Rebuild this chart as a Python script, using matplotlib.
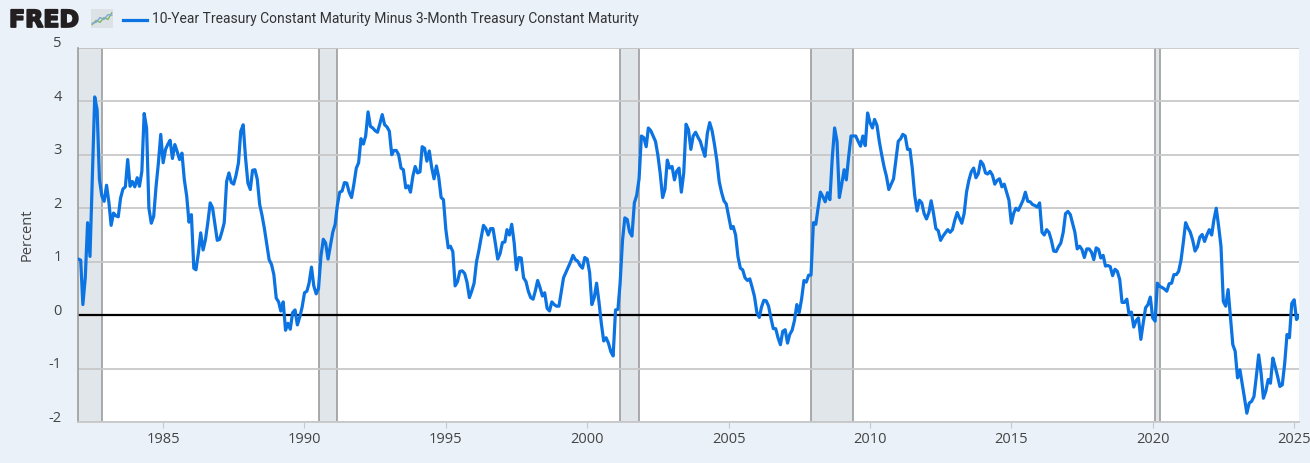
import matplotlib
matplotlib.use("Agg")
import matplotlib.pyplot as plt
import matplotlib.transforms as mtransforms
import matplotlib.patheffects as pe
from matplotlib.lines import Line2D
import pandas as pd

# 10-Year minus 3-Month Treasury constant maturity spread, monthly (percent)
spread_1980s = [
    1.05, 1.03, 0.20, 0.70, 1.73, 1.10, 2.60, 4.08, 3.84, 2.54, 2.23, 2.13,   # 1982
    2.43, 2.10, 1.68, 1.91, 1.86, 1.84, 2.19, 2.36, 2.40, 2.91, 2.41, 2.50,   # 1983
    2.40, 2.57, 2.41, 2.69, 3.77, 3.50, 2.00, 1.72, 1.85, 2.40, 2.85, 3.38,   # 1984
    2.85, 3.10, 3.19, 3.27, 2.93, 3.19, 3.06, 2.91, 3.03, 2.54, 2.23, 1.74,   # 1985
    1.88, 0.88, 0.85, 1.16, 1.54, 1.22, 1.41, 1.73, 2.10, 2.01, 1.70, 1.40,   # 1986
    1.42, 1.57, 1.73, 2.50, 2.66, 2.48, 2.45, 2.62, 2.85, 3.44, 3.56, 2.95,   # 1987
    2.47, 2.35, 2.71, 2.72, 2.54, 2.07, 1.87, 1.62, 1.32, 1.04, 0.95, 0.76,   # 1988
    0.32, 0.25, 0.08, 0.25, -0.28, -0.15, -0.26, 0.05, 0.10, -0.18, -0.03, 0.15,  # 1989
]
spread_1990s = [
    0.42, 0.45, 0.60, 0.90, 0.55, 0.40, 0.50, 1.10, 1.42, 1.35, 1.05, 1.30,   # 1990
    1.55, 1.70, 2.05, 2.30, 2.32, 2.48, 2.47, 2.30, 2.20, 2.45, 2.75, 2.85,   # 1991
    3.30, 3.20, 3.35, 3.80, 3.53, 3.50, 3.45, 3.42, 3.58, 3.75, 3.56, 3.52,   # 1992
    3.44, 3.00, 3.08, 3.08, 3.00, 2.75, 2.72, 2.38, 2.42, 2.30, 2.60, 2.78,   # 1993
    2.66, 2.68, 3.15, 3.12, 2.88, 3.07, 2.77, 2.55, 2.79, 2.58, 2.20, 2.16,   # 1994
    1.60, 1.26, 1.29, 1.19, 0.55, 0.63, 0.82, 0.83, 0.78, 0.62, 0.33, 0.45,   # 1995
    0.60, 1.00, 1.20, 1.45, 1.68, 1.62, 1.50, 1.62, 1.62, 1.35, 1.05, 1.15,   # 1996
    1.36, 1.37, 1.60, 1.50, 1.70, 1.36, 0.85, 1.08, 1.07, 0.70, 0.63, 0.45,   # 1997
    0.33, 0.30, 0.45, 0.65, 0.52, 0.36, 0.42, 0.13, 0.08, 0.25, 0.20, 0.17,   # 1998
    0.17, 0.45, 0.70, 0.80, 0.90, 1.00, 1.12, 1.04, 1.01, 0.93, 0.88, 1.08,   # 1999
]
spread_2000s = [
    1.05, 0.80, 0.20, 0.33, 0.60, 0.25, -0.15, -0.48, -0.42, -0.52, -0.68, -0.76,  # 2000
    0.10, 0.11, 0.60, 1.40, 1.82, 1.79, 1.56, 1.48, 2.10, 2.24, 2.55, 3.35,   # 2001
    3.32, 3.15, 3.50, 3.45, 3.35, 3.25, 3.00, 2.65, 2.20, 2.35, 2.90, 2.75,   # 2002
    2.78, 2.53, 2.69, 2.75, 2.30, 2.66, 3.57, 3.47, 3.10, 3.35, 3.42, 3.33,   # 2003
    3.25, 3.10, 2.97, 3.40, 3.60, 3.45, 3.20, 2.90, 2.50, 2.30, 2.14, 2.08,   # 2004
    1.85, 1.62, 1.66, 1.50, 1.10, 0.88, 0.85, 0.70, 0.65, 0.68, 0.52, 0.35,   # 2005
    0.05, -0.04, 0.15, 0.28, 0.27, 0.17, -0.05, -0.25, -0.25, -0.42, -0.55, -0.30,  # 2006
    -0.27, -0.52, -0.36, -0.28, -0.10, 0.20, 0.05, 0.30, 0.65, 0.62, 0.75, 0.75,   # 2007
    1.73, 1.70, 2.00, 2.30, 2.22, 2.12, 2.29, 2.16, 2.95, 3.50, 3.25, 2.20,   # 2008
    2.45, 2.72, 2.53, 2.97, 3.35, 3.35, 3.35, 3.25, 3.16, 3.35, 3.17, 3.78,   # 2009
]
spread_2010s = [
    3.60, 3.50, 3.66, 3.55, 3.25, 3.00, 2.78, 2.60, 2.35, 2.45, 2.55, 2.90,   # 2010
    3.25, 3.30, 3.38, 3.35, 3.10, 3.10, 2.75, 2.25, 1.95, 2.15, 2.10, 1.90,   # 2011
    1.80, 1.92, 2.14, 1.90, 1.62, 1.58, 1.40, 1.48, 1.54, 1.60, 1.55, 1.60,   # 2012
    1.78, 1.92, 1.82, 1.72, 1.90, 2.30, 2.52, 2.68, 2.75, 2.57, 2.65, 2.88,   # 2013
    2.82, 2.66, 2.64, 2.69, 2.62, 2.45, 2.52, 2.55, 2.40, 2.45, 2.30, 2.15,   # 2014
    1.72, 1.91, 2.00, 1.96, 2.05, 2.15, 2.30, 2.13, 2.12, 2.07, 2.05, 2.02,   # 2015
    2.10, 1.55, 1.50, 1.60, 1.55, 1.40, 1.20, 1.19, 1.28, 1.35, 1.55, 1.90,   # 2016
    1.94, 1.88, 1.72, 1.55, 1.24, 1.29, 1.23, 1.08, 1.24, 1.24, 1.18, 1.04,   # 2017
    1.26, 1.23, 1.07, 1.12, 0.92, 0.93, 0.91, 0.74, 0.86, 0.82, 0.67, 0.24,   # 2018
    0.24, 0.30, 0.02, 0.06, -0.22, -0.10, -0.05, -0.45, -0.14, 0.14, 0.20, 0.34,  # 2019
]
spread_2020s = [
    -0.05, -0.11, 0.60, 0.54, 0.52, 0.49, 0.45, 0.59, 0.60, 0.76, 0.76, 0.82,  # 2020
    1.03, 1.38, 1.73, 1.63, 1.55, 1.40, 1.20, 1.28, 1.46, 1.51, 1.38, 1.50,   # 2021
    1.60, 1.50, 1.78, 2.00, 1.67, 1.29, 0.26, 0.17, 0.48, -0.02, -0.55, -0.67,  # 2022
    -1.17, -1.02, -1.27, -1.55, -1.83, -1.64, -1.61, -1.52, -1.14, -0.74, -1.08, -1.55,  # 2023
    -1.42, -1.20, -1.27, -0.80, -0.96, -1.14, -1.33, -1.30, -0.90, -0.36, -0.42, 0.22,  # 2024
    0.29, -0.08, -0.02,                                                       # 2025
]

first_month = "1982-01-01"
recessions = [
    ("1981-08-01", "1982-11-01"),
    ("1990-07-01", "1991-03-01"),
    ("2001-03-01", "2001-11-01"),
    ("2007-12-01", "2009-06-01"),
    ("2020-02-01", "2020-04-01"),
]
tick_years = [1985, 1990, 1995, 2000, 2005, 2010, 2015, 2020, 2025]
y_ticks = [-2, -1, 0, 1, 2, 3, 4, 5]

# small FRED logo icon (decoration)
icon_green = [0.18, 0.40, 0.30, 0.55, 0.45, 0.80]
icon_blue = [0.25, 0.30, 0.55, 0.45, 0.70, 0.68]

series_name = "10-Year Treasury Constant Maturity Minus 3-Month Treasury Constant Maturity"

spread = spread_1980s + spread_1990s + spread_2000s + spread_2010s + spread_2020s
dates = pd.date_range(first_month, periods=len(spread), freq="MS")

line_color = "#0c73e2"
bg = "#eaf1f9"
text_color = "#444444"
grid_color = "#c8c8c8"

plt.rcParams["font.family"] = ["Open Sans", "DejaVu Sans"]

fig = plt.figure(figsize=(13.1, 4.63), dpi=100, facecolor=bg)
W, H = 1310, 463
ax = fig.add_axes([78.3 / W, 1 - 422.3 / H, (1298.7 - 78.3) / W, (422.3 - 47.7) / H])
ax.set_facecolor("white")

# recession shading, with grey edges
for start, end in recessions:
    ax.axvspan(pd.Timestamp(start), pd.Timestamp(end), facecolor="#e1e6eb",
               edgecolor="#9c9c9c", linewidth=1.2, zorder=1)

ax.set_axisbelow("line")
ax.yaxis.grid(True, color=grid_color, linewidth=1.3)
ax.axhline(0, color="black", linewidth=1.6, zorder=2.5)
ax.plot(dates, spread, color=line_color, linewidth=2.3, zorder=3,
        solid_joinstyle="round")

ax.set_xlim(pd.Timestamp(first_month), dates[-1])
ax.set_ylim(y_ticks[0], y_ticks[-1])

for side in ["top", "right"]:
    ax.spines[side].set_visible(False)
ax.spines["bottom"].set_color(grid_color)
ax.spines["bottom"].set_linewidth(1.3)
ax.spines["left"].set_color("#9c9c9c")
ax.spines["left"].set_linewidth(1.2)

ax.set_xticks([pd.Timestamp(f"{y}-01-01") for y in tick_years])
ax.set_xticklabels([str(y) for y in tick_years])
ax.tick_params(axis="x", length=4, color=grid_color, labelcolor=text_color,
               labelsize=10.5, pad=3)

ax.set_yticks(y_ticks)
ax.set_yticklabels([str(v) for v in y_ticks])
ax.tick_params(axis="y", length=0, labelcolor=text_color, labelsize=10.5, pad=12)
shift = mtransforms.ScaledTranslation(0, 6 / 100, fig.dpi_scale_trans)
for lab in ax.get_yticklabels():
    lab.set_transform(lab.get_transform() + shift)

fig.text(27 / W, 1 - 235 / H, "Percent", rotation=90, ha="center", va="center",
         fontsize=10.5, color=text_color)

# header: FRED logo + legend entry
logo = fig.text(9 / W, 1 - 20 / H, "FRED", fontsize=17, fontweight="bold",
                family="DejaVu Sans", color="#231f20", ha="left", va="center")
logo.set_path_effects([pe.withStroke(linewidth=1.3, foreground="#231f20")])
icon_ax = fig.add_axes([91 / W, 1 - 28 / H, 22 / W, 19 / H])
icon_ax.set_facecolor("#dde2e6")
icon_ax.plot(range(len(icon_green)), icon_green, color="#79b957", linewidth=1.0)
icon_ax.plot(range(len(icon_blue)), icon_blue, color="#7fa8d8", linewidth=1.0)
icon_ax.set_xlim(-0.3, len(icon_green) - 0.7)
icon_ax.set_ylim(0, 1)
icon_ax.set_xticks([])
icon_ax.set_yticks([])
for s in icon_ax.spines.values():
    s.set_visible(False)

fig.add_artist(Line2D([123 / W, 147 / W], [1 - 19.5 / H, 1 - 19.5 / H],
                      color=line_color, linewidth=2.3))
fig.text(152 / W, 1 - 18.5 / H, series_name, fontsize=10,
         family=["Roboto", "DejaVu Sans"], color="#333333", ha="left", va="center")

fig.savefig("out.png", dpi=100, facecolor=bg)
